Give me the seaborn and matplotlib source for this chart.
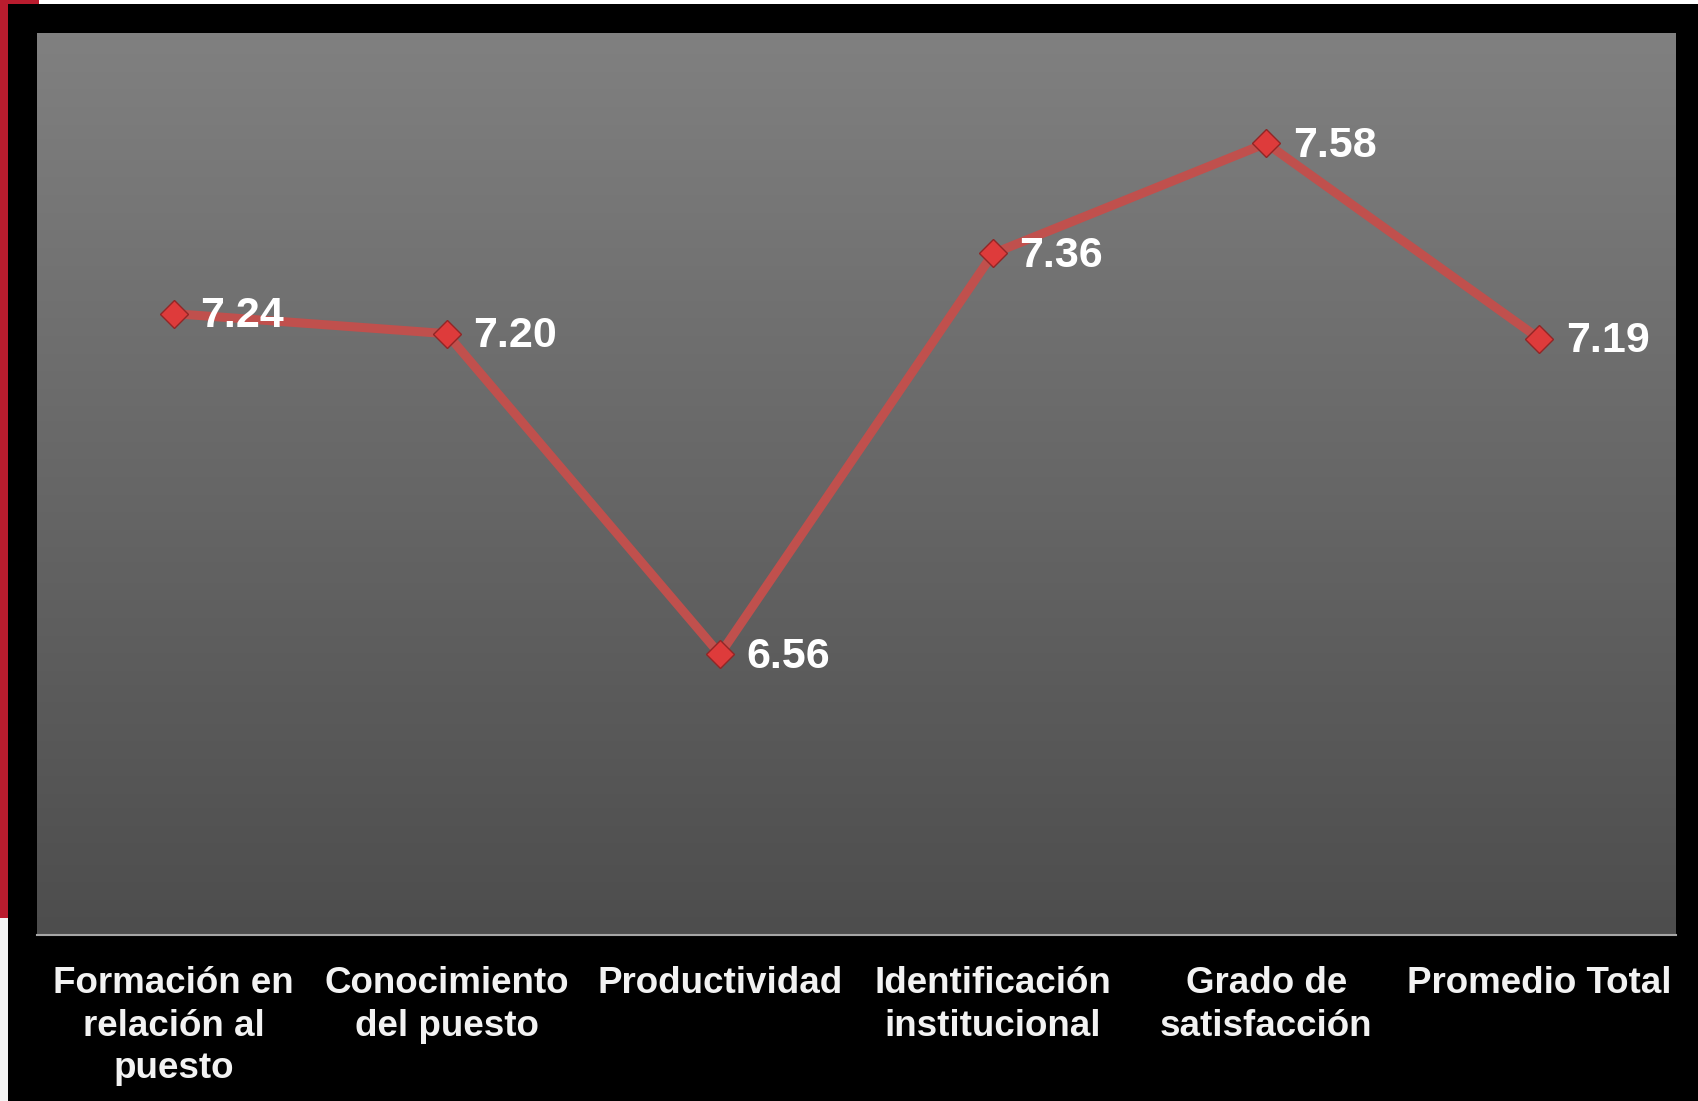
import numpy as np
import matplotlib
matplotlib.use("Agg")
import matplotlib.pyplot as plt
import seaborn as sns
from matplotlib.patches import Rectangle

# Data
categories = [
    "Formación en\nrelación al\npuesto",
    "Conocimiento\ndel puesto",
    "Productividad",
    "Identificación\ninstitucional",
    "Grado de\nsatisfacción",
    "Promedio Total",
]
scores = [7.24, 7.20, 6.56, 7.36, 7.58, 7.19]

sns.set_style("dark")
plt.rcParams['font.family'] = ['Liberation Sans', 'DejaVu Sans']

W, H = 1699, 1101
fig = plt.figure(figsize=(W / 100, H / 100), dpi=100, facecolor="black")

# plot area position (pixels)
left, right, top, bottom = 37, 1676, 33, 935
ax = fig.add_axes([left / W, 1 - bottom / H, (right - left) / W, (bottom - top) / H])

# vertical gray gradient background
grad = np.linspace(0, 1, 256).reshape(-1, 1)
cmap = matplotlib.colors.LinearSegmentedColormap.from_list("bg", ["#808080", "#4d4d4d"])
ax.imshow(grad, aspect="auto", cmap=cmap, extent=[0, 1, 0, 1], origin="upper",
          transform=ax.transAxes, zorder=0)

sns.lineplot(x=list(range(len(categories))), y=scores, ax=ax, color="#c0504d",
             linewidth=6.5, marker="D", markersize=14, markerfacecolor="#de3b3b",
             markeredgecolor="#922626", markeredgewidth=1.0, zorder=3)

for i, v in enumerate(scores):
    ax.annotate(f"{v:.2f}", (i, v), xytext=(19, -2), textcoords="offset points",
                color="white", fontsize=31, fontweight="bold", va="center", ha="left",
                zorder=4)

ax.set_xlim(-0.5, len(categories) - 0.5)
ax.set_ylim(6.0, 7.8)
ax.set_xticks(range(len(categories)))
ax.set_xticklabels(categories, color="#f2f2f2", fontsize=26.5, fontweight="bold",
                   linespacing=1.28)
ax.tick_params(axis="x", length=0, pad=22.5)
ax.set_yticks([])
ax.set_xlabel("")
ax.set_ylabel("")
ax.grid(False)
for s in ["top", "left", "right"]:
    ax.spines[s].set_visible(False)
ax.spines["bottom"].set_visible(True)
ax.spines["bottom"].set_color("#a6a6a6")
ax.spines["bottom"].set_linewidth(1.5)

# slide decorations: red strip on the left and white strip at the top
fig.patches.append(Rectangle((0, 1 - 4 / H), 1, 4 / H, transform=fig.transFigure,
                             facecolor="white", edgecolor="none"))
fig.patches.append(Rectangle((0, 1 - 4 / H), 39 / W, 4 / H, transform=fig.transFigure,
                             facecolor="#b91c2e", edgecolor="none"))
fig.patches.append(Rectangle((0, 1 - 918 / H), 8 / W, 918 / H, transform=fig.transFigure,
                             facecolor="#b91c2e", edgecolor="none"))
fig.patches.append(Rectangle((0, 0), 8 / W, 1 - 918 / H, transform=fig.transFigure,
                             facecolor="#f4f4f4", edgecolor="none"))

fig.savefig("out.png", dpi=100, facecolor="black")
